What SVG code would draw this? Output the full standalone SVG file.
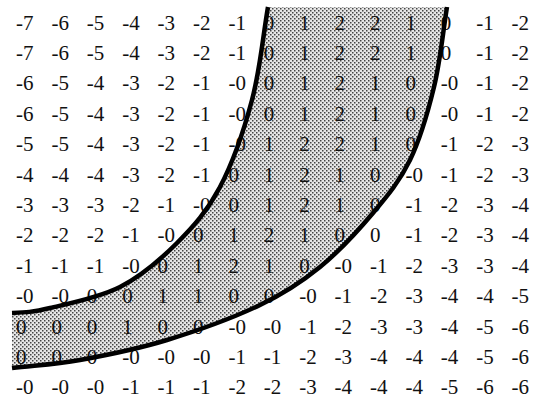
<svg xmlns="http://www.w3.org/2000/svg" width="534" height="404" viewBox="0 0 534 404">
<style>
  .n { font-family: "Liberation Serif", "Times New Roman", serif; font-size: 21px; fill: #111; }
  .curve { fill: none; stroke: #000; stroke-width: 4.5; stroke-linecap: butt; }
</style>
<defs>
  <pattern id="stip" width="4" height="4" patternUnits="userSpaceOnUse">
    <rect width="4" height="4" fill="#e6e6e6"/>
    <rect x="0" y="0" width="1.5" height="1.5" fill="#444"/>
    <rect x="2" y="2" width="1.5" height="1.5" fill="#444"/>
  </pattern>
</defs>
<rect width="534" height="404" fill="#fff"/>
<g id="band-fill">
  <path fill="url(#stip)" d="M 268,7 C 262.7,38 260,70 252,100 C 244,130 232.5,163.2 220,187 C 207.5,210.8 193.7,226.3 177,243 C 160.3,259.7 141.2,276.2 120,287 C 98.8,297.8 68,303.7 50,308 C 32,312.3 25,312.5 12,313 L 12,368 C 34.7,365.3 54.2,364.7 80,360 C 105.8,355.3 137,349.2 167,340 C 197,330.8 234.5,317.2 260,305 C 285.5,292.8 301.2,282.3 320,267 C 338.8,251.7 358,230.8 373,213 C 388,195.2 399.8,181 410,160 C 420.2,139 427.8,112.5 434,87 C 440.2,61.5 442.7,33.7 447,7 Z"/>
</g>
<g id="grid">
  <text class="n" y="29.5"><tspan x="16">-7</tspan><tspan x="51.4">-6</tspan><tspan x="86.8">-5</tspan><tspan x="122.2">-4</tspan><tspan x="157.6">-3</tspan><tspan x="193">-2</tspan><tspan x="228.4">-1</tspan><tspan x="263.8">0</tspan><tspan x="299.2">1</tspan><tspan x="334.6">2</tspan><tspan x="370">2</tspan><tspan x="405.4">1</tspan><tspan x="440.8">0</tspan><tspan x="476.2">-1</tspan><tspan x="511.6">-2</tspan></text>
  <text class="n" y="59.9"><tspan x="16">-7</tspan><tspan x="51.4">-6</tspan><tspan x="86.8">-5</tspan><tspan x="122.2">-4</tspan><tspan x="157.6">-3</tspan><tspan x="193">-2</tspan><tspan x="228.4">-1</tspan><tspan x="263.8">0</tspan><tspan x="299.2">1</tspan><tspan x="334.6">2</tspan><tspan x="370">2</tspan><tspan x="405.4">1</tspan><tspan x="440.8">0</tspan><tspan x="476.2">-1</tspan><tspan x="511.6">-2</tspan></text>
  <text class="n" y="90.3"><tspan x="16">-6</tspan><tspan x="51.4">-5</tspan><tspan x="86.8">-4</tspan><tspan x="122.2">-3</tspan><tspan x="157.6">-2</tspan><tspan x="193">-1</tspan><tspan x="228.4">-0</tspan><tspan x="263.8">0</tspan><tspan x="299.2">1</tspan><tspan x="334.6">2</tspan><tspan x="370">1</tspan><tspan x="405.4">0</tspan><tspan x="440.8">-0</tspan><tspan x="476.2">-1</tspan><tspan x="511.6">-2</tspan></text>
  <text class="n" y="120.7"><tspan x="16">-6</tspan><tspan x="51.4">-5</tspan><tspan x="86.8">-4</tspan><tspan x="122.2">-3</tspan><tspan x="157.6">-2</tspan><tspan x="193">-1</tspan><tspan x="228.4">-0</tspan><tspan x="263.8">0</tspan><tspan x="299.2">1</tspan><tspan x="334.6">2</tspan><tspan x="370">1</tspan><tspan x="405.4">0</tspan><tspan x="440.8">-0</tspan><tspan x="476.2">-1</tspan><tspan x="511.6">-2</tspan></text>
  <text class="n" y="151.1"><tspan x="16">-5</tspan><tspan x="51.4">-5</tspan><tspan x="86.8">-4</tspan><tspan x="122.2">-3</tspan><tspan x="157.6">-2</tspan><tspan x="193">-1</tspan><tspan x="228.4">-0</tspan><tspan x="263.8">1</tspan><tspan x="299.2">2</tspan><tspan x="334.6">2</tspan><tspan x="370">1</tspan><tspan x="405.4">0</tspan><tspan x="440.8">-1</tspan><tspan x="476.2">-2</tspan><tspan x="511.6">-3</tspan></text>
  <text class="n" y="181.5"><tspan x="16">-4</tspan><tspan x="51.4">-4</tspan><tspan x="86.8">-4</tspan><tspan x="122.2">-3</tspan><tspan x="157.6">-2</tspan><tspan x="193">-1</tspan><tspan x="228.4">0</tspan><tspan x="263.8">1</tspan><tspan x="299.2">2</tspan><tspan x="334.6">1</tspan><tspan x="370">0</tspan><tspan x="405.4">-0</tspan><tspan x="440.8">-1</tspan><tspan x="476.2">-2</tspan><tspan x="511.6">-3</tspan></text>
  <text class="n" y="211.9"><tspan x="16">-3</tspan><tspan x="51.4">-3</tspan><tspan x="86.8">-3</tspan><tspan x="122.2">-2</tspan><tspan x="157.6">-1</tspan><tspan x="193">-0</tspan><tspan x="228.4">0</tspan><tspan x="263.8">1</tspan><tspan x="299.2">2</tspan><tspan x="334.6">1</tspan><tspan x="370">0</tspan><tspan x="405.4">-1</tspan><tspan x="440.8">-2</tspan><tspan x="476.2">-3</tspan><tspan x="511.6">-4</tspan></text>
  <text class="n" y="242.3"><tspan x="16">-2</tspan><tspan x="51.4">-2</tspan><tspan x="86.8">-2</tspan><tspan x="122.2">-1</tspan><tspan x="157.6">-0</tspan><tspan x="193">0</tspan><tspan x="228.4">1</tspan><tspan x="263.8">2</tspan><tspan x="299.2">1</tspan><tspan x="334.6">0</tspan><tspan x="370">0</tspan><tspan x="405.4">-1</tspan><tspan x="440.8">-2</tspan><tspan x="476.2">-3</tspan><tspan x="511.6">-4</tspan></text>
  <text class="n" y="272.7"><tspan x="16">-1</tspan><tspan x="51.4">-1</tspan><tspan x="86.8">-1</tspan><tspan x="122.2">-0</tspan><tspan x="157.6">0</tspan><tspan x="193">1</tspan><tspan x="228.4">2</tspan><tspan x="263.8">1</tspan><tspan x="299.2">0</tspan><tspan x="334.6">-0</tspan><tspan x="370">-1</tspan><tspan x="405.4">-2</tspan><tspan x="440.8">-3</tspan><tspan x="476.2">-3</tspan><tspan x="511.6">-4</tspan></text>
  <text class="n" y="303.1"><tspan x="16">-0</tspan><tspan x="51.4">-0</tspan><tspan x="86.8">0</tspan><tspan x="122.2">0</tspan><tspan x="157.6">1</tspan><tspan x="193">1</tspan><tspan x="228.4">0</tspan><tspan x="263.8">0</tspan><tspan x="299.2">-0</tspan><tspan x="334.6">-1</tspan><tspan x="370">-2</tspan><tspan x="405.4">-3</tspan><tspan x="440.8">-4</tspan><tspan x="476.2">-4</tspan><tspan x="511.6">-5</tspan></text>
  <text class="n" y="333.5"><tspan x="16">0</tspan><tspan x="51.4">0</tspan><tspan x="86.8">0</tspan><tspan x="122.2">1</tspan><tspan x="157.6">0</tspan><tspan x="193">0</tspan><tspan x="228.4">-0</tspan><tspan x="263.8">-0</tspan><tspan x="299.2">-1</tspan><tspan x="334.6">-2</tspan><tspan x="370">-3</tspan><tspan x="405.4">-3</tspan><tspan x="440.8">-4</tspan><tspan x="476.2">-5</tspan><tspan x="511.6">-6</tspan></text>
  <text class="n" y="363.9"><tspan x="16">0</tspan><tspan x="51.4">0</tspan><tspan x="86.8">0</tspan><tspan x="122.2">-0</tspan><tspan x="157.6">-0</tspan><tspan x="193">-0</tspan><tspan x="228.4">-1</tspan><tspan x="263.8">-1</tspan><tspan x="299.2">-2</tspan><tspan x="334.6">-3</tspan><tspan x="370">-4</tspan><tspan x="405.4">-4</tspan><tspan x="440.8">-4</tspan><tspan x="476.2">-5</tspan><tspan x="511.6">-6</tspan></text>
  <text class="n" y="394.3"><tspan x="16">-0</tspan><tspan x="51.4">-0</tspan><tspan x="86.8">-0</tspan><tspan x="122.2">-1</tspan><tspan x="157.6">-1</tspan><tspan x="193">-1</tspan><tspan x="228.4">-2</tspan><tspan x="263.8">-2</tspan><tspan x="299.2">-3</tspan><tspan x="334.6">-4</tspan><tspan x="370">-4</tspan><tspan x="405.4">-4</tspan><tspan x="440.8">-5</tspan><tspan x="476.2">-6</tspan><tspan x="511.6">-6</tspan></text>
</g>
<g id="curves">
  <path id="outer-curve" class="curve" d="M 268,7 C 262.7,38 260,70 252,100 C 244,130 232.5,163.2 220,187 C 207.5,210.8 193.7,226.3 177,243 C 160.3,259.7 141.2,276.2 120,287 C 98.8,297.8 68,303.7 50,308 C 32,312.3 25,312.5 12,313"/>
  <path id="inner-curve" class="curve" d="M 447,7 C 442.7,33.7 440.2,61.5 434,87 C 427.8,112.5 420.2,139 410,160 C 399.8,181 388,195.2 373,213 C 358,230.8 338.8,251.7 320,267 C 301.2,282.3 285.5,292.8 260,305 C 234.5,317.2 197,330.8 167,340 C 137,349.2 105.8,355.3 80,360 C 54.2,364.7 34.7,365.3 12,368"/>
</g>
</svg>
